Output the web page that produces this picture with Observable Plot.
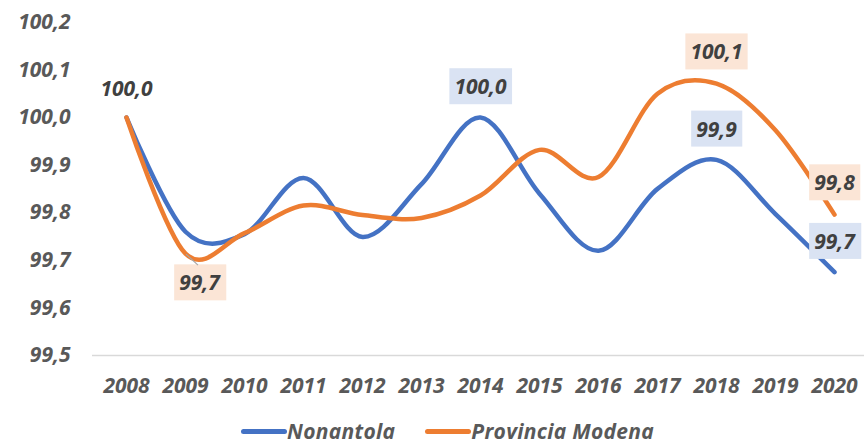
<!DOCTYPE html>
<html><head><meta charset="utf-8">
<script src="https://cdn.jsdelivr.net/npm/d3@7"></script>
<script src="https://cdn.jsdelivr.net/npm/@observablehq/plot@0.6"></script>
<style>
body{margin:0;background:#fff;}
#chart{width:864px;height:446px;position:relative;overflow:hidden;}
.legend{position:absolute;left:241px;top:418px;height:26px;line-height:26px;display:flex;align-items:center;font-family:"Open Sans",sans-serif;font-style:italic;font-weight:700;font-size:21px;color:#595959;white-space:nowrap;letter-spacing:0.3px;}
.legend .item{display:flex;align-items:center;margin-right:30px;}
.legend .sw{display:inline-block;width:46px;height:5px;border-radius:3px;}
</style></head><body><div id="chart"></div>
<script>
const years = [2008, 2009, 2010, 2011, 2012, 2013, 2014, 2015, 2016, 2017, 2018, 2019, 2020];
const nonantola = [100.0, 99.76, 99.755, 99.873, 99.749, 99.86, 100.0, 99.84, 99.72, 99.85, 99.911, 99.797, 99.675];
const modena = [100.0, 99.714, 99.757, 99.815, 99.795, 99.789, 99.836, 99.932, 99.875, 100.05, 100.071, 99.973, 99.796];
const yTicks = [99.5, 99.6, 99.7, 99.8, 99.9, 100.0, 100.1, 100.2];
const seriesNames = ["Nonantola", "Provincia Modena"];
const seriesColors = ["#4472C4", "#ED7D31"];
const boxColors = ["#DAE3F3", "#FBE5D6"];
// labelled points
const plainLabelYears = [2008];
const nonantolaLabelYears = [2014, 2018, 2020];
const modenaLabelYearsAbove = [2018, 2020];
const modenaLabelYearsBelow = [2009];

const FONT = "Open Sans, sans-serif";
const fmt = v => d3.format(".1f")(v).replace(".", ",");
const rows = years.flatMap((y, i) => [
  {year: y, series: seriesNames[0], value: nonantola[i]},
  {year: y, series: seriesNames[1], value: modena[i]}
]);
const pick = (list, arr, s) => list.map(y => ({year: y, series: s, value: arr[years.indexOf(y)]}));
const plainLabels = pick(plainLabelYears, nonantola, seriesNames[0]);
const blueLabels = pick(nonantolaLabelYears, nonantola, seriesNames[0]);
const orangeAbove = pick(modenaLabelYearsAbove, modena, seriesNames[1]);
const orangeBelow = pick(modenaLabelYearsBelow, modena, seriesNames[1]);

const labelStyle = {x: "year", y: "value", text: d => fmt(d.value), fill: "#404040",
  fontSize: 21, fontStyle: "italic", fontWeight: 700, fontFamily: FONT};

const chart = Plot.plot({
  width: 864, height: 410,
  marginLeft: 92, marginRight: 0, marginTop: 21.8, marginBottom: 55,
  style: {fontFamily: FONT, fontSize: "21px", fontStyle: "italic", fontWeight: 700, color: "#595959", background: "#fff", overflow: "visible"},
  x: {type: "point", domain: years, range: [122.5, 836.5], padding: 0, tickSize: 0, tickPadding: 23, tickFormat: d3.format("d"), label: null},
  y: {domain: [99.5, 100.2], ticks: yTicks, tickSize: 0, tickPadding: 22, tickFormat: fmt, label: null},
  color: {domain: seriesNames, range: seriesColors},
  marks: [
    Plot.ruleY([99.5], {stroke: "#D9D9D9", strokeWidth: 1.5}),
    Plot.line(rows, {x: "year", y: "value", z: "series", stroke: "series", strokeWidth: 4.5,
      curve: d3.curveCardinal.tension(0), strokeLinecap: "round", strokeLinejoin: "round"}),
    Plot.text(plainLabels, {...labelStyle, dy: -28}),
    Plot.text(blueLabels, {...labelStyle, dy: -30, ariaDescription: "lab-blue"}),
    Plot.text(orangeAbove, {...labelStyle, dy: -31, ariaDescription: "lab-orange"}),
    Plot.text(orangeBelow, {...labelStyle, dx: 14, dy: 30, ariaDescription: "lab-orange"})
  ]
});
const host = document.getElementById("chart");
host.appendChild(chart);

// background boxes behind labels
function boxes(name, color) {
  d3.select(chart).selectAll(`[aria-description="${name}"] text`).each(function() {
    const b = this.getBBox();
    const r = document.createElementNS("http://www.w3.org/2000/svg", "rect");
    r.setAttribute("x", b.x - 5); r.setAttribute("y", b.y + b.height / 2 - 18);
    r.setAttribute("width", b.width + 10); r.setAttribute("height", 36);
    r.setAttribute("fill", color);
    const t = this.getAttribute("transform"); if (t) r.setAttribute("transform", t);
    this.parentNode.insertBefore(r, this);
  });
}
boxes("lab-blue", boxColors[0]);
boxes("lab-orange", boxColors[1]);

// leader line for the 2009 label
const sx = chart.scale("x"), sy = chart.scale("y");
const px = sx.apply(modenaLabelYearsBelow[0]), py = sy.apply(modena[years.indexOf(modenaLabelYearsBelow[0])]);
d3.select(chart).append("line").attr("x1", px + 1).attr("y1", py + 1).attr("x2", px + 13).attr("y2", py + 12)
  .attr("stroke", "#A6A6A6").attr("stroke-width", 1.2);

// legend
const lg = d3.select(host).append("div").attr("class", "legend");
seriesNames.forEach((n, i) => {
  const it = lg.append("span").attr("class", "item");
  it.append("span").attr("class", "sw").style("background", seriesColors[i]);
  it.append("span").text(n);
});
</script></body></html>
